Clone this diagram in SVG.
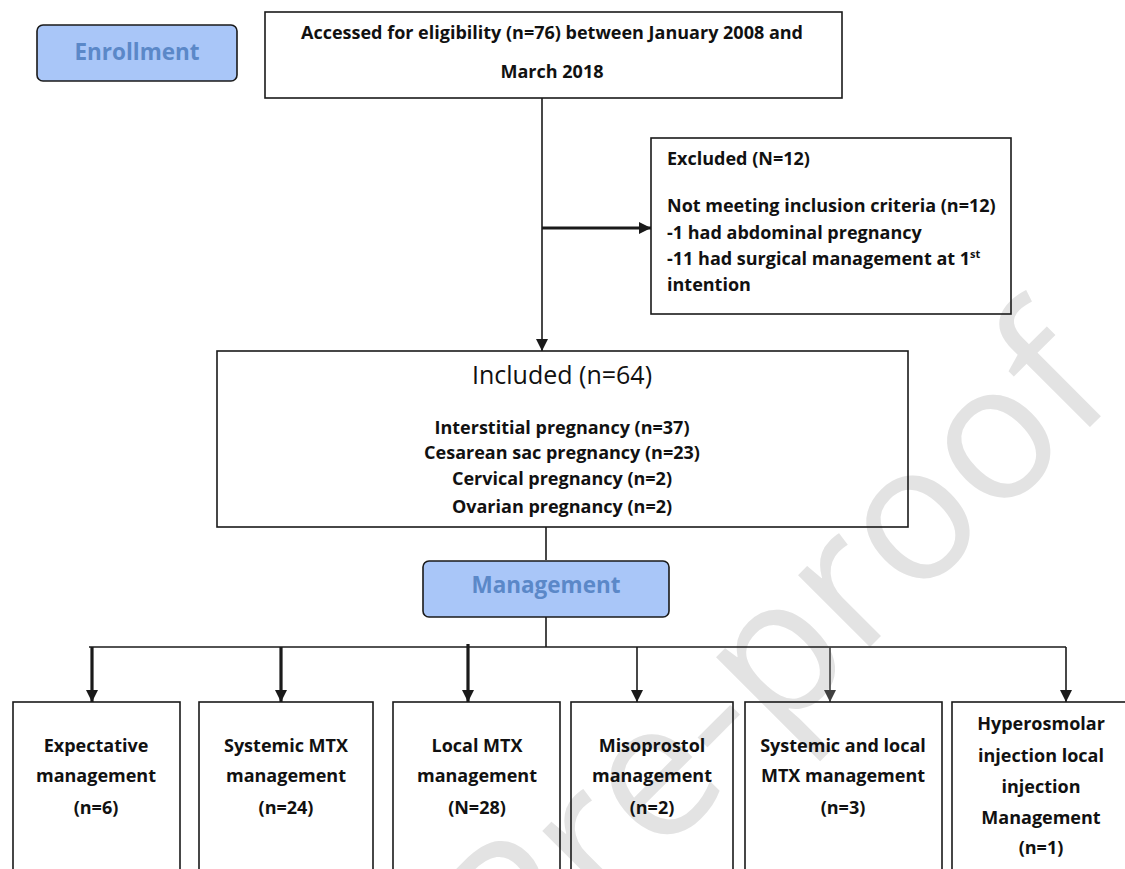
<svg xmlns="http://www.w3.org/2000/svg" width="1125" height="869" viewBox="0 0 1125 869">
<style>
.box{fill:none;stroke:#1a1a1a;stroke-width:1.6}
.hdr{fill:#a9c6f8;stroke:#1a1a1a;stroke-width:1.6}
.t{font-family:"Open Sans","Liberation Sans",sans-serif;font-weight:bold;font-size:18px;fill:#111}
.c{text-anchor:middle}
.h{font-family:"Open Sans","Liberation Sans",sans-serif;font-weight:bold;font-size:22.5px;fill:#5b88c8;text-anchor:middle}
.title{font-family:"Open Sans","Liberation Sans",sans-serif;font-size:25px;fill:#111;text-anchor:middle}
.bt{font-family:"Open Sans","Liberation Sans",sans-serif;font-weight:bold;font-size:18px;fill:#111;text-anchor:middle}
.ln{fill:none;stroke:#1a1a1a;stroke-width:1.6}
.thick{stroke-width:3.2}
.wm{font-family:"Open Sans","Liberation Sans",sans-serif;font-size:190px;fill:#e3e3e3}
</style>
<defs>
<marker id="ah" viewBox="0 0 12 12" markerWidth="12" markerHeight="12" refX="12" refY="6" orient="auto" markerUnits="userSpaceOnUse">
<path d="M0,0 L12,6 L0,12 z" fill="#1a1a1a"/>
</marker>
<marker id="ahg" viewBox="0 0 12 12" markerWidth="12" markerHeight="12" refX="12" refY="6" orient="auto" markerUnits="userSpaceOnUse">
<path d="M0,0 L12,6 L0,12 z" fill="#404040"/>
</marker>
</defs>
<rect width="1125" height="869" fill="#fff"/>
<text class="wm" transform="translate(522,995) rotate(-45)">Pre-proof</text>

<g id="connectors">
<path class="ln" d="M542,98 V351" marker-end="url(#ah)"/>
<path class="ln thick" d="M542,228 H651" marker-end="url(#ah)"/>
<path class="ln" d="M546,527 V560"/>
<path class="ln" d="M546,617 V647"/>
<path class="ln" d="M89,647 H1066"/>
<path class="ln thick" d="M92,647 V702" marker-end="url(#ah)"/>
<path class="ln thick" d="M281,647 V702" marker-end="url(#ah)"/>
<path class="ln thick" d="M468,644 V702" marker-end="url(#ah)"/>
<path class="ln" d="M637,647 V702" marker-end="url(#ah)"/>
<path class="ln" style="stroke:#404040" d="M830,647 V702" marker-end="url(#ahg)"/>
<path class="ln" d="M1066,647 V702" marker-end="url(#ah)"/>
</g>

<g id="enrollment">
<rect class="hdr" x="37" y="25" width="200" height="56" rx="6"/>
<text class="h" x="137" y="60">Enrollment</text>
</g>

<g id="assessed">
<rect class="box" x="265" y="12" width="577" height="86"/>
<text class="t c" x="552" y="39">Accessed for eligibility (n=76) between January 2008 and</text>
<text class="t c" x="552" y="78">March 2018</text>
</g>

<g id="excluded">
<rect class="box" x="651" y="138" width="360" height="176"/>
<text class="t" x="667" y="165">Excluded (N=12)</text>
<text class="t" x="667" y="212">Not meeting inclusion criteria (n=12)</text>
<text class="t" x="667" y="239">-1 had abdominal pregnancy</text>
<text class="t" x="667" y="265">-11 had surgical management at 1<tspan font-size="11" dy="-7">st</tspan></text>
<text class="t" x="667" y="291">intention</text>
</g>

<g id="included">
<rect class="box" x="217" y="351" width="691" height="176"/>
<text class="title" x="562" y="384">Included (n=64)</text>
<text class="t c" x="562" y="434">Interstitial pregnancy (n=37)</text>
<text class="t c" x="562" y="459">Cesarean sac pregnancy (n=23)</text>
<text class="t c" x="562" y="485">Cervical pregnancy (n=2)</text>
<text class="t c" x="562" y="513">Ovarian pregnancy (n=2)</text>
</g>

<g id="management">
<rect class="hdr" x="423" y="561" width="246" height="56" rx="6"/>
<text class="h" x="546" y="593">Management</text>
</g>

<g id="expectative">
<rect class="box" x="13" y="702" width="167" height="180"/>
<text class="bt" x="96" y="752">Expectative</text>
<text class="bt" x="96" y="782">management</text>
<text class="bt" x="96" y="814">(n=6)</text>
</g>

<g id="systemic">
<rect class="box" x="199" y="702" width="174" height="180"/>
<text class="bt" x="286" y="752">Systemic MTX</text>
<text class="bt" x="286" y="782">management</text>
<text class="bt" x="286" y="814">(n=24)</text>
</g>

<g id="local">
<rect class="box" x="393" y="702" width="167" height="180"/>
<text class="bt" x="477" y="752">Local MTX</text>
<text class="bt" x="477" y="782">management</text>
<text class="bt" x="477" y="814">(N=28)</text>
</g>

<g id="misoprostol">
<rect class="box" x="571" y="702" width="162" height="180"/>
<text class="bt" x="652" y="752">Misoprostol</text>
<text class="bt" x="652" y="782">management</text>
<text class="bt" x="652" y="814">(n=2)</text>
</g>

<g id="systemic-local">
<rect class="box" x="745" y="702" width="197" height="180"/>
<text class="bt" x="843" y="752">Systemic and local</text>
<text class="bt" x="843" y="782">MTX management</text>
<text class="bt" x="843" y="814">(n=3)</text>
</g>

<g id="hyperosmolar">
<rect class="box" x="952" y="702" width="180" height="180"/>
<text class="bt" x="1041" y="730">Hyperosmolar</text>
<text class="bt" x="1041" y="762">injection local</text>
<text class="bt" x="1041" y="793">injection</text>
<text class="bt" x="1041" y="824">Management</text>
<text class="bt" x="1041" y="854">(n=1)</text>
</g>
</svg>
